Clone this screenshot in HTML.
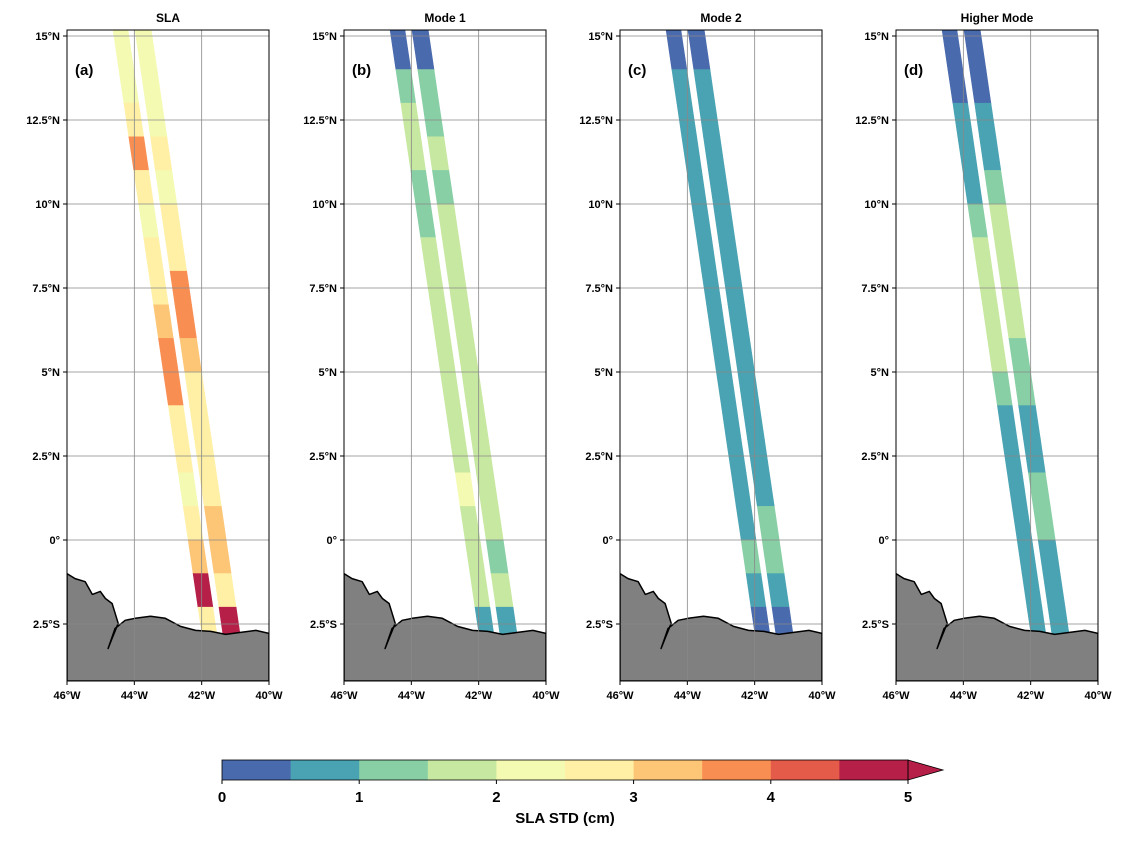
<!DOCTYPE html>
<html><head><meta charset="utf-8"><style>
body{margin:0;background:#fff;font-family:"Liberation Sans",sans-serif;}
svg text{font-family:"Liberation Sans",sans-serif;}
</style></head><body>
<svg id="fig" width="1128" height="836" xmlns="http://www.w3.org/2000/svg"></svg>
<script>
const panelTitles=["SLA","Mode 1","Mode 2","Higher Mode"];
const panelLetters=["(a)","(b)","(c)","(d)"];
const panelX=[67,344,620,896];
const latTicks=[15,12.5,10,7.5,5,2.5,0,-2.5];
const latTickLabels=["15°N","12.5°N","10°N","7.5°N","5°N","2.5°N","0°","2.5°S"];
const lonTicks=[-46,-44,-42,-40];
const lonTickLabels=["46°W","44°W","42°W","40°W"];
const cbTicks=[0,1,2,3,4,5];
const binColors=["#4a6aae","#4aa3b3","#88cfa5","#c7e8a0","#f4fab1","#fff0a6","#fdc676","#f98e52","#e45c49","#b51f48"];
// segment lat boundaries (top to bottom)
const segLats=[15.2,14,13,12,11,10,9,8,7,6,5,4,3,2,1,0,-1,-2,-2.8];
// values per 1-degree segment: [panel][strip][seg]
const stdA_left=[2.3,2.2,2.6,3.6,2.7,2.4,2.5,2.6,3.3,3.6,3.7,2.6,2.5,2.4,2.6,3.2,4.8,2.7];
const stdA_right=[2.2,2.3,2.4,2.5,2.4,2.6,2.7,3.5,3.9,3.2,2.6,2.5,2.7,2.8,3.4,3.2,2.7,4.6];
const stdB_left=[0.3,1.3,1.5,1.7,1.2,1.4,1.5,1.7,1.8,1.9,1.8,1.9,1.9,2.1,1.8,1.7,1.8,0.8];
const stdB_right=[0.3,1.2,1.4,1.6,1.4,1.5,1.7,1.8,1.8,1.9,1.9,1.8,1.7,1.6,1.5,1.4,1.5,0.8];
const stdC_left=[0.4,0.8,0.8,0.8,0.7,0.7,0.8,0.7,0.7,0.7,0.7,0.7,0.7,0.8,0.9,1.1,0.8,0.4];
const stdC_right=[0.4,0.8,0.9,0.8,0.8,0.7,0.7,0.7,0.7,0.7,0.7,0.7,0.8,0.8,1.1,1.2,0.8,0.4];
const stdD_left=[0.3,0.4,0.8,0.8,0.9,1.4,1.6,1.7,1.8,1.9,1.3,0.9,0.8,0.9,0.9,0.9,0.8,0.9];
const stdD_right=[0.3,0.4,0.8,0.9,1.2,1.5,1.6,1.8,1.9,1.4,1.0,0.9,0.9,1.1,1.1,0.8,0.8,0.7];
const panelData=[[stdA_left,stdA_right],[stdB_left,stdB_right],[stdC_left,stdC_right],[stdD_left,stdD_right]];
// strip edges: [lonLeftTop, lonRightTop, lonLeftBottom, lonRightBottom]
const stripGeo=[[-44.63,-44.19,-41.99,-41.55],[-43.98,-43.5,-41.37,-40.86]];
const coastLon=[-46,-45.76,-45.46,-45.25,-45.01,-44.86,-44.66,-44.57,-44.48,-44.66,-44.78,-44.57,-44.27,-43.97,-43.52,-43.08,-42.63,-42.18,-41.73,-41.29,-40.84,-40.39,-40];
const coastLat=[-1.0,-1.15,-1.24,-1.62,-1.53,-1.74,-1.89,-2.18,-2.48,-2.93,-3.23,-2.63,-2.39,-2.33,-2.27,-2.33,-2.57,-2.69,-2.72,-2.81,-2.75,-2.69,-2.78];

const NS="http://www.w3.org/2000/svg";
const svg=document.getElementById('fig');
function mk(tag,attrs,parent){const e=document.createElementNS(NS,tag);for(const k in attrs)e.setAttribute(k,attrs[k]);(parent||svg).appendChild(e);return e;}
const W=202,Y0=30,H=651;
const latTop=15+6/33.6;
function xs(x0,lon){return x0+(lon+46)/6*W;}
function ys(lat){return 36+(15-lat)*33.6;}
function colorOf(v){let i=Math.floor(v/0.5);if(i<0)i=0;if(i>9)i=9;return binColors[i];}
function stripLon(geo,lat,side){const t=(latTop-lat)/(latTop-(-2.8));const a=side?geo[1]:geo[0],b=side?geo[3]:geo[2];return a+(b-a)*t;}

panelX.forEach((x0,p)=>{
  const g=mk('g',{});
  
  
  const cid='clip'+p;
  const cp=mk('clipPath',{id:cid},g);mk('rect',{x:x0,y:Y0,width:W,height:H},cp);
  const inner=mk('g',{'clip-path':'url(#'+cid+')'},g);
  // swaths
  panelData[p].forEach((vals,s)=>{
    const geo=stripGeo[s];
    vals.forEach((v,k)=>{
      const la=segLats[k],lb=segLats[k+1];
      const pts=[[stripLon(geo,la,0),la],[stripLon(geo,la,1),la],[stripLon(geo,lb,1),lb],[stripLon(geo,lb,0),lb]].map(q=>xs(x0,q[0]).toFixed(1)+','+ys(q[1]).toFixed(1)).join(' ');
      const poly=mk('polygon',{points:pts,fill:colorOf(v),stroke:colorOf(v),'stroke-width':0.6},inner);
      
      
    });
  });
  // land
  let d='M'+xs(x0,-46)+','+(Y0+H);
  coastLon.forEach((lo,i)=>{d+=' L'+xs(x0,lo).toFixed(1)+','+ys(coastLat[i]).toFixed(1);});
  d+=' L'+(x0+W)+','+(Y0+H)+' Z';
  const land=mk('path',{d:d,fill:'#808080',stroke:'#000','stroke-width':1.5,'stroke-linejoin':'round'},inner);
  
  
  // grid
  lonTicks.slice(1,3).forEach(lo=>{const l=mk('line',{x1:xs(x0,lo),x2:xs(x0,lo),y1:Y0,y2:Y0+H,stroke:'#888','stroke-width':0.8},inner);});
  latTicks.forEach(la=>{const l=mk('line',{x1:x0,x2:x0+W,y1:ys(la),y2:ys(la),stroke:'#888','stroke-width':0.8},inner);});
  const fr=mk('rect',{x:x0,y:Y0,width:W,height:H,fill:'none',stroke:'#000','stroke-width':1},g);
  
  latTicks.forEach((la,i)=>{
    mk('line',{x1:x0-4,x2:x0,y1:ys(la),y2:ys(la),stroke:'#000'},g);
    const t=mk('text',{x:x0-7,y:ys(la)+4,'text-anchor':'end','font-size':11,'font-weight':'bold'},g);t.textContent=latTickLabels[i];
    
  });
  lonTicks.forEach((lo,i)=>{
    mk('line',{x1:xs(x0,lo),x2:xs(x0,lo),y1:Y0+H,y2:Y0+H+4,stroke:'#000'},g);
    const t=mk('text',{x:xs(x0,lo),y:Y0+H+18,'text-anchor':'middle','font-size':11,'font-weight':'bold'},g);t.textContent=lonTickLabels[i];
    
  });
  const ti=mk('text',{x:x0+W/2,y:22,'text-anchor':'middle','font-size':12,'font-weight':'bold'},g);ti.textContent=panelTitles[p];
  
  const lt=mk('text',{x:x0+8,y:75,'font-size':15,'font-weight':'bold'},g);lt.textContent=panelLetters[p];
  
});
// colorbar
const cb=mk('g',{});


const cbx0=222,cbx1=908,cby=760,cbh=20;
function cx(v){return cbx0+(cbx1-cbx0)*v/5;}
binColors.forEach((c,i)=>{const r=mk('rect',{x:cx(i*0.5),y:cby,width:cx(0.5)-cx(0)+0.5,height:cbh,fill:c},cb);});
const ar=mk('polygon',{points:cbx1+','+cby+' 943,'+(cby+cbh/2)+' '+cbx1+','+(cby+cbh),fill:binColors[9],stroke:'#000','stroke-width':0.8},cb);

mk('rect',{x:cbx0,y:cby,width:cbx1-cbx0,height:cbh,fill:'none',stroke:'#000','stroke-width':0.8},cb);
cbTicks.forEach(v=>{
  mk('line',{x1:cx(v),x2:cx(v),y1:cby+cbh,y2:cby+cbh+4,stroke:'#000'},cb);
  const t=mk('text',{x:cx(v),y:cby+cbh+22,'text-anchor':'middle','font-size':15,'font-weight':'bold'},cb);t.textContent=v;
  
});
const cl=mk('text',{x:(cbx0+cbx1)/2,y:823,'text-anchor':'middle','font-size':15,'font-weight':'bold'},cb);cl.textContent='SLA STD (cm)';

</script>
</body></html>
